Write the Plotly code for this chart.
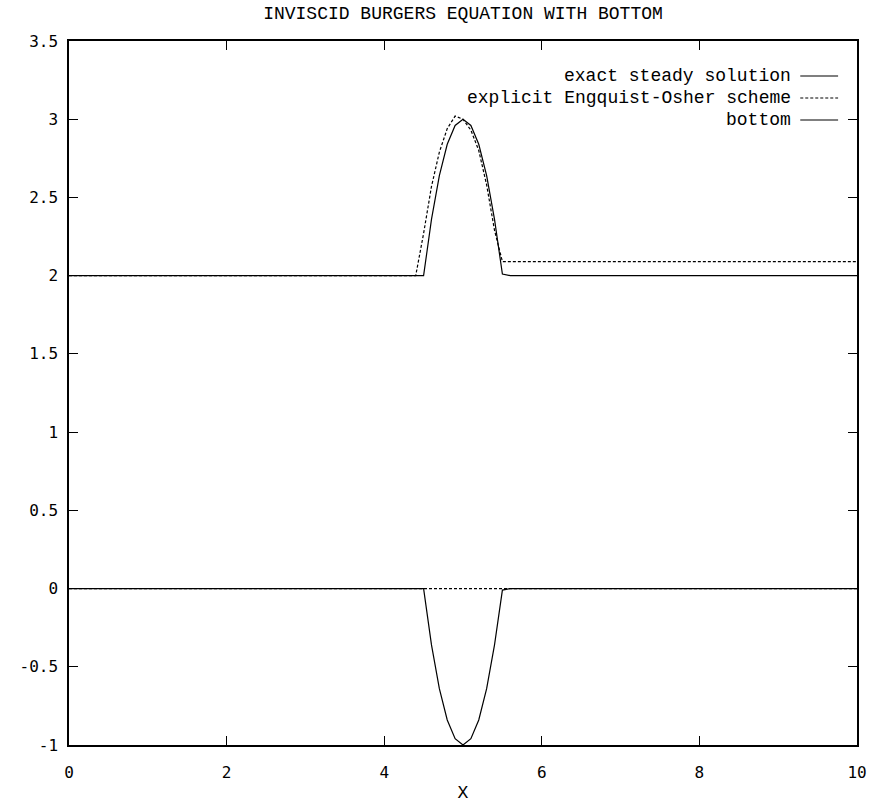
import plotly.graph_objects as go

# exact steady solution
exact_x = [0.0, 4.5, 4.6, 4.7, 4.8, 4.9, 5.0, 5.1, 5.2, 5.3, 5.4, 5.5, 5.6, 10.0]
exact_y = [2.0, 2.0, 2.36, 2.64, 2.84, 2.96, 3.0, 2.96, 2.84, 2.64, 2.36, 2.01, 2.0, 2.0]

# explicit Engquist-Osher scheme (two blocks: solution and zero level)
eo_x = [0.0, 4.4, 4.5, 4.6, 4.7, 4.8, 4.9, 5.0, 5.1, 5.2, 5.3, 5.4, 5.5, 10.0, None, 0.0, 10.0]
eo_y = [2.0, 2.0, 2.27, 2.57, 2.79, 2.94, 3.02, 3.0, 2.93, 2.80, 2.58, 2.29, 2.09, 2.09, None, 0.0, 0.0]

# bottom
bot_x = [0.0, 4.5, 4.6, 4.7, 4.8, 4.9, 5.0, 5.1, 5.2, 5.3, 5.4, 5.5, 5.6, 10.0]
bot_y = [0.0, 0.0, -0.36, -0.64, -0.84, -0.96, -1.0, -0.96, -0.84, -0.64, -0.36, -0.01, 0.0, 0.0]

legend_labels = ["exact steady solution", "explicit Engquist-Osher scheme", "bottom"]
legend_dash = ["solid", "3px,2px", "solid"]

x_ticks = [0, 2, 4, 6, 8, 10]
y_ticks = [-1, -0.5, 0, 0.5, 1, 1.5, 2, 2.5, 3, 3.5]
y_ticktext = ["-1", "-0.5", "0", "0.5", "1", "1.5", "2", "2.5", "3", "3.5"]

MONO = "Liberation Mono, DejaVu Sans Mono, monospace"

fig = go.Figure()
fig.add_trace(go.Scatter(x=exact_x, y=exact_y, mode="lines", name=legend_labels[0],
                         line=dict(color="black", width=1.2, dash=legend_dash[0])))
fig.add_trace(go.Scatter(x=eo_x, y=eo_y, mode="lines", name=legend_labels[1], connectgaps=False,
                         line=dict(color="black", width=1.2, dash=legend_dash[1])))
fig.add_trace(go.Scatter(x=bot_x, y=bot_y, mode="lines", name=legend_labels[2],
                         line=dict(color="black", width=1.2, dash=legend_dash[2])))

# manual gnuplot-style legend (text right-aligned, sample line to the right)
plot_top = 41
plot_h = 704
row_y_px = [76, 98, 120]
for lab, dash, ypx in zip(legend_labels, legend_dash, row_y_px):
    yp = 1 - (ypx - plot_top) / plot_h
    fig.add_annotation(x=0.919, y=yp, xref="paper", yref="paper", text=lab, showarrow=False,
                       xanchor="right", yanchor="middle", font=dict(family=MONO, size=18, color="black"))
    fig.add_shape(type="line", xref="paper", yref="paper", x0=0.928, x1=0.976, y0=yp, y1=yp,
                  line=dict(color="black", width=1.2, dash=dash))

fig.update_layout(
    width=870, height=806,
    margin=dict(l=69, r=13, t=41, b=61, autoexpand=False),
    paper_bgcolor="white", plot_bgcolor="white",
    showlegend=False,
    title=dict(text="INVISCID BURGERS EQUATION WITH BOTTOM", x=0.5, xref="paper", xanchor="center",
               y=1 - 13 / 806, yanchor="middle", font=dict(family=MONO, size=18, color="black")),
    font=dict(family=MONO, size=16, color="black"),
)
fig.update_xaxes(range=[0, 10], tickvals=x_ticks, ticktext=[str(v) for v in x_ticks],
                 ticks="inside", ticklen=9, tickwidth=1, tickcolor="black",
                 showline=True, linecolor="black", linewidth=1.5, mirror="ticks",
                 showgrid=False, zeroline=False, ticklabelstandoff=12, automargin=False,
                 title=dict(text="X", font=dict(family=MONO, size=18), standoff=4),
                 tickfont=dict(family="DejaVu Sans Mono", size=16))
fig.update_yaxes(range=[-1, 3.5], tickvals=y_ticks, ticktext=y_ticktext,
                 ticks="inside", ticklen=9, tickwidth=1, tickcolor="black",
                 showline=True, linecolor="black", linewidth=1.5, mirror="ticks",
                 showgrid=False, zeroline=False, ticklabelstandoff=6, automargin=False,
                 tickfont=dict(family="DejaVu Sans Mono", size=16))

fig.write_html("out.html")
